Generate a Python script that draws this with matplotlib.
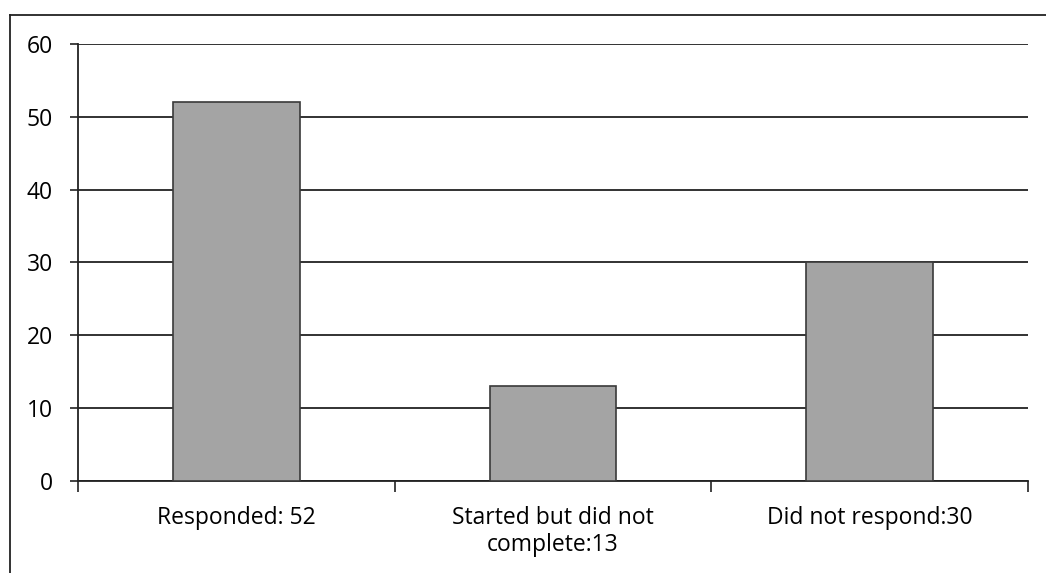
import numpy as np
import matplotlib.pyplot as plt
from matplotlib.lines import Line2D

categories = ["Responded: 52", "Started but did not\ncomplete:13", "Did not respond:30"]
counts = [52, 13, 30]
yticks = [0, 10, 20, 30, 40, 50, 60]

plt.rcParams['font.family'] = ['Open Sans', 'DejaVu Sans']

fig = plt.figure(figsize=(10.46, 5.73), dpi=100)
ax = fig.add_axes([0.0746, 0.1611, 0.9082, 0.7621])

x = np.arange(len(categories))
ax.bar(x, counts, width=0.4, color='#a4a4a4', edgecolor='#3a3a3a', linewidth=1.2, zorder=3)

ax.set_xlim(-0.5, len(categories) - 0.5)
ax.set_ylim(0, 60)
ax.set_yticks(yticks)
ax.set_yticklabels([str(v) for v in yticks], fontsize=16.5)
ax.yaxis.grid(True, color='#222222', linewidth=1.3, zorder=0)

ax.set_xticks(x)
ax.set_xticklabels(categories, fontsize=16.5, linespacing=1.2)
ax.set_xticks(np.arange(-0.5, len(categories)), minor=True)
ax.tick_params(axis='x', which='major', length=0, pad=18)
ax.tick_params(axis='x', which='minor', length=8, width=1.2, color='#222222', direction='out')
ax.tick_params(axis='y', length=6, width=1.2, color='#222222', pad=12)

for s in ['top', 'right']:
    ax.spines[s].set_visible(False)
ax.spines['left'].set_color('#222222')
ax.spines['bottom'].set_color('#222222')
ax.spines['left'].set_linewidth(1.3)
ax.spines['bottom'].set_linewidth(1.3)

# outer chart border (cropped on the right and bottom)
fig.add_artist(Line2D([10 / 1046, 10 / 1046], [0, 1 - 15 / 573], transform=fig.transFigure, color='#222222', linewidth=1.3))
fig.add_artist(Line2D([10 / 1046, 1], [1 - 15 / 573, 1 - 15 / 573], transform=fig.transFigure, color='#222222', linewidth=1.3))

plt.savefig("out.png", dpi=100)
